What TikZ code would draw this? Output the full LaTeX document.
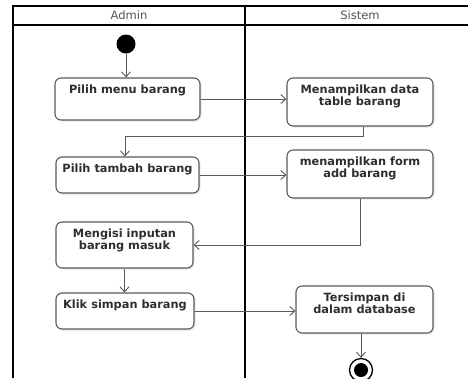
\documentclass[tikz,border=0pt]{standalone}
\usepackage{fontspec}
\setmainfont{DejaVu Sans}
\usetikzlibrary{arrows.meta,shadows}
\definecolor{edge}{HTML}{5A5A5A}
\definecolor{ink}{HTML}{2E2E2E}
\definecolor{headink}{HTML}{555555}
\tikzset{
  lane/.style={line width=1.8bp, black},
  act/.style={draw=edge, line width=1.1bp, rounded corners=6bp, fill=white,
    drop shadow={opacity=0.18, shadow xshift=1.5bp, shadow yshift=-1.5bp},
    inner sep=0pt},
  acttext/.style={font=\fontsize{11.4}{12}\selectfont\bfseries, text=ink,
    align=center, inner sep=0pt, anchor=north},
  head/.style={font=\fontsize{11.6}{13}\selectfont, text=headink},
  flow/.style={draw=edge, line width=0.9bp, -{Straight Barb[length=5bp,width=9bp]}},
}
\newcommand{\actbox}[6]{%
  % name, centre x, centre y, width, height, text
  \node[act, minimum width=#4bp, minimum height=#5bp] (#1) at (#2,#3) {};
  \node[acttext] (#1t) at ([yshift=-7bp]#1.north) {#6};
}
\begin{document}
\begin{tikzpicture}[x=1bp, y=-1bp]
  \useasboundingbox (0,0) rectangle (468,378);
  \fill[white] (0,0) rectangle (468,378);

  % swimlane frame
  \draw[lane] (13,378) -- (13,6) -- (470,6);
  \draw[lane] (13,25) -- (470,25);
  \draw[lane] (245,6) -- (245,378);
  \node[head] (hadmin) at (129,15.5) {Admin};
  \node[head] (hsistem) at (360,15.5) {Sistem};

  % start / end
  \node[circle, fill=black, minimum size=19bp, inner sep=0pt] (start) at (126,44) {};
  \node[circle, draw=black, line width=1.3bp, fill=white, minimum size=23bp, inner sep=0pt] (end) at (361,370) {};
  \node[circle, fill=black, minimum size=14bp, inner sep=0pt] (endin) at (361,370) {};

  % activities
  \actbox{b1}{127.5}{99}{145}{42}{Pilih menu barang}
  \actbox{b2}{360}{102}{146}{48}{Menampilkan data\\table barang}
  \actbox{b3}{127.5}{175}{143}{36}{Pilih tambah barang}
  \actbox{b4}{360}{174}{146}{48}{menampilkan form\\add barang}
  \actbox{b5}{124.5}{245}{137}{46}{Mengisi inputan\\barang masuk}
  \actbox{b6}{125}{311}{138}{36}{Klik simpan barang}
  \actbox{b7}{364.5}{309.5}{137}{47}{Tersimpan di\\dalam database}

  % control flow
  \draw[flow] (start) -- (start |- b1.north);
  \draw[flow] (b1.east) -- (b1.east -| b2.west);
  \draw[flow] ([xshift=3bp]b2.south) -- ++(0,10) -| ([xshift=-2.5bp]b3.north);
  \draw[flow] (b3.east) -- (b3.east -| b4.west);
  \draw[flow] (b4.south) |- (b5.east);
  \draw[flow] (b5.south) -- (b5.south |- b6.north);
  \draw[flow] (b6.east) -- (b6.east -| b7.west);
  \draw[flow] (b7.south -| end) -- (end.north);
\end{tikzpicture}
\end{document}
